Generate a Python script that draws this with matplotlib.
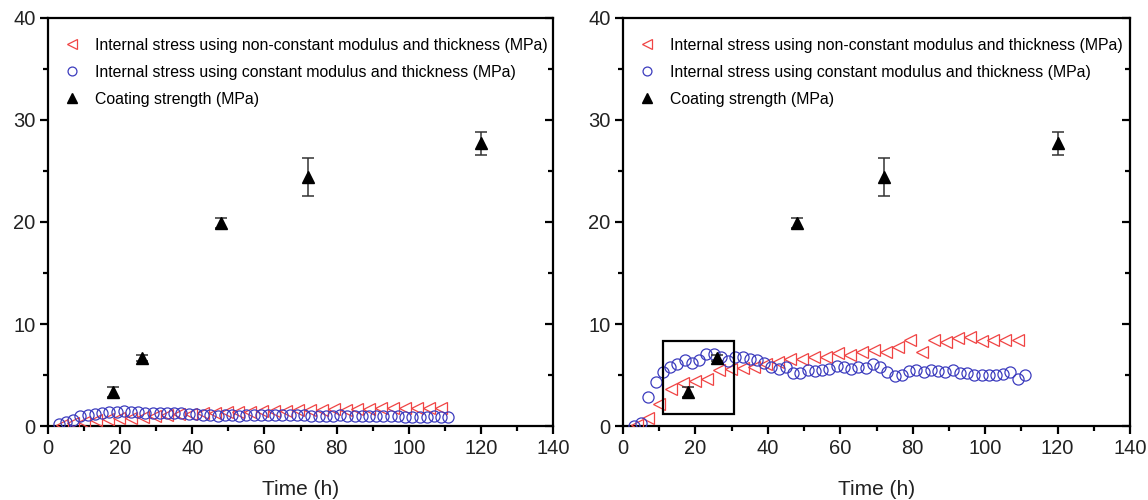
import matplotlib
matplotlib.use("Agg")
import matplotlib.pyplot as plt
from matplotlib.patches import Rectangle
from matplotlib.ticker import MultipleLocator

plt.rcParams['font.family'] = ['Liberation Sans', 'DejaVu Sans']

# Times (h)
t_var = [4, 7, 10, 13.2, 16.5, 19.8, 23.1, 26.4, 29.7, 33, 36.3, 39.6, 42.9, 46.2,
         49.5, 52.8, 56.1, 59.4, 62.7, 66, 69.3, 72.6, 75.9, 79.2, 82.5, 85.8, 89.1,
         92.4, 95.7, 99, 102.3, 105.6, 109]
t_const = [3, 5, 7, 9, 11, 13, 15, 17, 19, 21, 23, 25, 27, 29, 31, 33, 35, 37, 39,
           41, 43, 45, 47, 49, 51, 53, 55, 57, 59, 61, 63, 65, 67, 69, 71, 73, 75,
           77, 79, 81, 83, 85, 87, 89, 91, 93, 95, 97, 99, 101, 103, 105, 107, 109, 111]

# Left panel: internal stress (MPa)
left_var = [0.1, 0.26, 0.42, 0.58, 0.65, 0.75, 0.82, 0.9, 1.0, 1.05, 1.15, 1.22, 1.25,
            1.3, 1.35, 1.35, 1.4, 1.45, 1.45, 1.5, 1.55, 1.55, 1.6, 1.65, 1.6, 1.7,
            1.7, 1.75, 1.75, 1.75, 1.8, 1.8, 1.8]
left_const = [0.2, 0.35, 0.6, 0.95, 1.1, 1.2, 1.3, 1.35, 1.35, 1.45, 1.4, 1.35, 1.3,
              1.3, 1.25, 1.3, 1.25, 1.3, 1.2, 1.15, 1.05, 1.1, 1.0, 1.05, 1.05, 1.0,
              1.05, 1.05, 1.1, 1.05, 1.1, 1.05, 1.05, 1.1, 1.05, 1.0, 0.95, 1.0, 1.0,
              1.05, 1.0, 1.0, 1.0, 1.0, 1.0, 0.95, 0.95, 0.95, 0.9, 0.9, 0.9, 0.9,
              0.95, 0.85, 0.9]

# Right panel: internal stress (MPa)
right_var = [0.1, 0.8, 2.2, 3.6, 4.2, 4.4, 4.6, 5.5, 5.6, 5.7, 5.8, 6.1, 6.3, 6.6,
             6.6, 6.8, 6.8, 7.2, 7.0, 7.3, 7.5, 7.3, 7.7, 8.4, 7.3, 8.4, 8.2, 8.6,
             8.7, 8.3, 8.4, 8.4, 8.4]
right_const = [0.0, 0.3, 2.8, 4.3, 5.3, 5.8, 6.1, 6.5, 6.2, 6.5, 7.1, 7.1, 6.8, 6.4,
               6.8, 6.8, 6.6, 6.5, 6.2, 5.8, 5.6, 5.8, 5.2, 5.2, 5.5, 5.4, 5.5, 5.6,
               5.9, 5.8, 5.6, 5.8, 5.7, 6.1, 5.8, 5.3, 4.9, 5.0, 5.4, 5.5, 5.3, 5.5,
               5.4, 5.3, 5.5, 5.2, 5.2, 5.0, 5.0, 5.0, 5.0, 5.1, 5.3, 4.6, 5.0]

# Coating strength (MPa) with standard deviation
t_strength = [18, 26, 48, 72, 120]
strength = [3.3, 6.7, 19.9, 24.4, 27.7]
strength_err = [0.5, 0.3, 0.5, 1.9, 1.1]

labels = ["Internal stress using non-constant modulus and thickness (MPa)",
          "Internal stress using constant modulus and thickness (MPa)",
          "Coating strength (MPa)"]

RED = '#f04444'
BLUE = '#3c3cbe'
W, H = 1148, 500

fig = plt.figure(figsize=(W / 100, H / 100), dpi=100)
ax_l = fig.add_axes([48 / W, 1 - 426 / H, (553 - 48) / W, (426 - 18) / H])
ax_r = fig.add_axes([623 / W, 1 - 426 / H, (1130 - 623) / W, (426 - 18) / H])


def draw(ax, var, const):
    h1, = ax.plot(t_var, var, linestyle='none', marker='<', markersize=8.5,
                  markerfacecolor='none', markeredgecolor=RED, markeredgewidth=0.9,
                  zorder=3)
    h2, = ax.plot(t_const, const, linestyle='none', marker='o', markersize=8,
                  markerfacecolor='none', markeredgecolor=BLUE, markeredgewidth=0.9,
                  zorder=3)
    eb = ax.errorbar(t_strength, strength, yerr=strength_err, fmt='^', color='black',
                     markersize=9, ecolor='#333333', elinewidth=1.1, capsize=4,
                     capthick=1.1, zorder=4)
    ax.set_xlim(0, 140)
    ax.set_ylim(0, 40)
    ax.xaxis.set_major_locator(MultipleLocator(20))
    ax.xaxis.set_minor_locator(MultipleLocator(10))
    ax.yaxis.set_major_locator(MultipleLocator(10))
    ax.yaxis.set_minor_locator(MultipleLocator(5))
    for s in ax.spines.values():
        s.set_linewidth(1.6)
    ax.tick_params(axis='both', which='major', direction='out', length=6, width=1.6,
                   labelsize=14.5, labelcolor='#222222', pad=3)
    ax.tick_params(axis='both', which='minor', direction='out', length=3.5, width=1.6)
    ax.tick_params(axis='y', which='both', right=True, left=True)
    ax.set_xlabel("Time (h)", fontsize=15, color='#222222', labelpad=16)
    ax.legend([h1, h2, eb[0]], labels, loc='upper left', frameon=False,
              fontsize=11.4, handlelength=1.0, handletextpad=0.95,
              borderaxespad=0.6, labelspacing=0.75, markerscale=0.8,
              bbox_to_anchor=(0.0, 0.99))
    return ax


draw(ax_l, left_var, left_const)
draw(ax_r, right_var, right_const)

# right-side ticks point inward
for ax in (ax_l, ax_r):
    for tick in ax.yaxis.get_major_ticks() + ax.yaxis.get_minor_ticks():
        tick.tick2line.set_marker(matplotlib.lines.TICKLEFT)

ax_r.add_patch(Rectangle((11.0, 1.2), 19.7, 7.1, fill=False, edgecolor='black',
                         linewidth=1.6, zorder=5))

fig.savefig("out.png", dpi=100)
